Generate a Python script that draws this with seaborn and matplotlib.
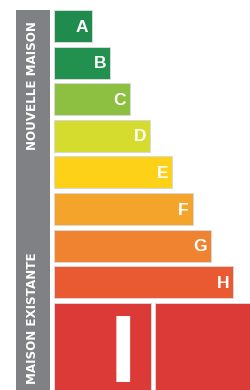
import matplotlib
matplotlib.use("Agg")
import matplotlib.pyplot as plt
import seaborn as sns
import pandas as pd

# ── données (longueurs des barres en pixels depuis le bord gauche) ──
classes  = ["A", "B", "C", "D", "E", "F", "G", "H", "I"]
longueur = [38, 56, 76, 96, 118, 139, 157, 179, 97]
couleurs = ["#1f8c4e", "#22904f", "#8dbf41", "#d5dc2e", "#fcd118",
            "#f5a42b", "#f0832f", "#ea5a32", "#dc3a36"]
suite_I  = 95            # second bloc rouge à droite de "I"
groupes  = ["NOUVELLE MAISON", "MAISON EXISTANTE"]

df = pd.DataFrame({"classe": classes, "longueur": longueur})

sns.set_style("white")
plt.rcParams["font.family"] = ["Liberation Sans", "DejaVu Sans"]

W, H = 250, 390
pas = 36.6
fig = plt.figure(figsize=(W / 100, H / 100), dpi=100)

# axe principal : x en pixels à partir de 54
ax = fig.add_axes([54 / W, 0, (W - 54) / W, 1])
sns.barplot(data=df, y="classe", x="longueur", hue="classe",
            palette=couleurs, orient="h", width=0.875, legend=False,
            edgecolor="#d8d8d8", linewidth=0.7, ax=ax, saturation=1)

# la barre I est plus haute (coupée en bas)
haut_I = 95 / pas
for p in ax.patches:
    if abs(p.get_y() + p.get_height() / 2 - (len(classes) - 1)) < 0.1:
        p.set_height(haut_I)
y_I = len(classes) - 1 - 0.875 / 2

# bloc rouge supplémentaire sur la ligne I
ax.bar(longueur[-1] + 4, haut_I, width=suite_I, bottom=y_I, align="edge",
       color=couleurs[-1], edgecolor="#d8d8d8", linewidth=0.7)

ax.set_xlim(0, W - 54)
ax.set_ylim((H - 26) / pas, -26 / pas)
ax.axis("off")

for i, (c, v) in enumerate(zip(classes, longueur)):
    if c == "I":
        ax.text(v - 15, y_I + 79 / pas, c, color="white", fontsize=69,
                fontweight="bold", ha="right", va="baseline")
    else:
        ax.text(v - 4, i + 0.03, c, color="white", fontsize=12.5,
                fontweight="bold", ha="right", va="center")

# bandeau gris vertical
axg = fig.add_axes([16 / W, 0, 34 / W, (H - 10) / H])
axg.set_facecolor("#808184")
axg.set_xticks([])
axg.set_yticks([])
for s in axg.spines.values():
    s.set_visible(False)
for txt, yc in zip(groupes, [86, 318]):
    axg.text(0.5, (H - yc) / (H - 10), txt, rotation=90, color="white",
             fontsize=8.6, fontweight="bold", ha="center", va="center",
             family="DejaVu Sans", transform=axg.transAxes)

fig.savefig("out.png", dpi=100, facecolor="white")
